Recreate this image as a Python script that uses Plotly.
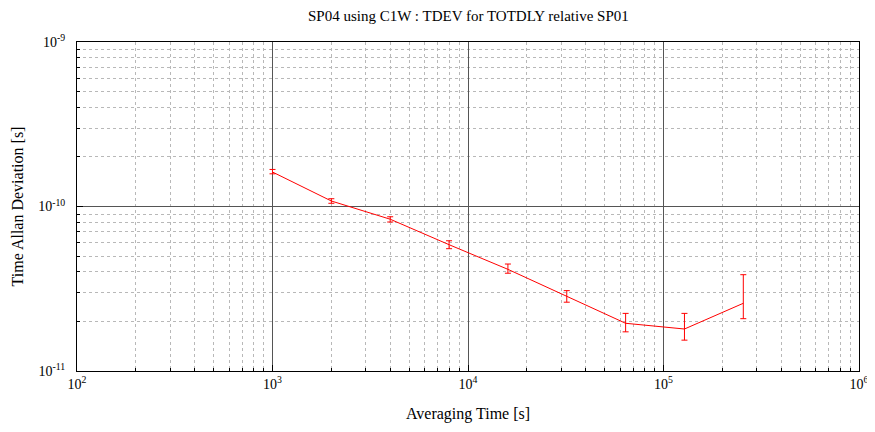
import plotly.graph_objects as go

tau = [1000, 2000, 4000, 8000, 16000, 32000, 64000, 128000, 256000]
tdev = [1.62e-10, 1.08e-10, 8.37e-11, 5.86e-11, 4.15e-11, 2.83e-11, 1.95e-11, 1.80e-11, 2.58e-11]
err_hi = [1.68e-10, 1.115e-10, 8.66e-11, 6.19e-11, 4.47e-11, 3.08e-11, 2.24e-11, 2.24e-11, 3.85e-11]
err_lo = [1.58e-10, 1.046e-10, 8.05e-11, 5.54e-11, 3.93e-11, 2.62e-11, 1.73e-11, 1.54e-11, 2.08e-11]

x_major = [1e2, 1e3, 1e4, 1e5, 1e6]
x_major_text = ["10<sup>2</sup>", "10<sup>3</sup>", "10<sup>4</sup>", "10<sup>5</sup>", "10<sup>6</sup>"]
y_major = [1e-11, 1e-10, 1e-9]
y_major_text = ["10<sup>-11</sup>", "10<sup>-10</sup>", "10<sup>-9</sup>"]

x_minor = [m * d for d in [1e2, 1e3, 1e4, 1e5] for m in range(2, 10)]
y_minor = [m * d for d in [1e-11, 1e-10] for m in range(2, 10)]

plus = [h - v for h, v in zip(err_hi, tdev)]
minus = [v - l for v, l in zip(tdev, err_lo)]

fig = go.Figure()
fig.add_trace(go.Scatter(
    x=tau, y=tdev, mode="lines",
    line=dict(color="#ff0000", width=1),
    error_y=dict(type="data", symmetric=False, array=plus, arrayminus=minus,
                 color="#ff0000", thickness=1, width=3),
    showlegend=False,
))

font = dict(family="Liberation Serif, Times New Roman, serif", size=13, color="#000")

# the page body adds an 8px offset, so the figure is sized/placed to compensate
fig.update_layout(
    width=867, height=424,
    margin=dict(l=69, r=16, t=34, b=61, autoexpand=False),
    paper_bgcolor="white", plot_bgcolor="white",
    font=font,
    title=dict(text="SP04 using C1W : TDEV for TOTDLY relative SP01",
               x=0.531, xanchor="center", y=1 - 8 / 424, yanchor="middle",
               font=dict(size=15)),
    xaxis=dict(
        type="log", range=[2, 6], automargin=False,
        tickmode="array", tickvals=x_major, ticktext=x_major_text,
        showgrid=True, gridcolor="#555555", gridwidth=1,
        showline=True, linecolor="#000", linewidth=1, mirror=True,
        ticks="inside", ticklen=6, tickcolor="#000",
        minor=dict(tickmode="array", tickvals=x_minor, showgrid=True,
                   gridcolor="#b8b8b8", griddash="dot", gridwidth=1,
                   ticks="inside", ticklen=3, tickcolor="#000"),
        zeroline=False,
        title=dict(text="Averaging Time [s]", standoff=17),
        tickfont=dict(size=14),
    ),
    yaxis=dict(
        type="log", range=[-11, -9], automargin=False,
        tickmode="array", tickvals=y_major, ticktext=y_major_text,
        showgrid=True, gridcolor="#555555", gridwidth=1,
        showline=True, linecolor="#000", linewidth=1, mirror=True,
        ticks="inside", ticklen=6, tickcolor="#000", ticklabelstandoff=8,
        minor=dict(tickmode="array", tickvals=y_minor, showgrid=True,
                   gridcolor="#b8b8b8", griddash="dot", gridwidth=1,
                   ticks="inside", ticklen=3, tickcolor="#000"),
        zeroline=False,
        title=dict(text="Time Allan Deviation [s]", standoff=10),
        tickfont=dict(size=14),
    ),
)

fig.write_html("out.html")
